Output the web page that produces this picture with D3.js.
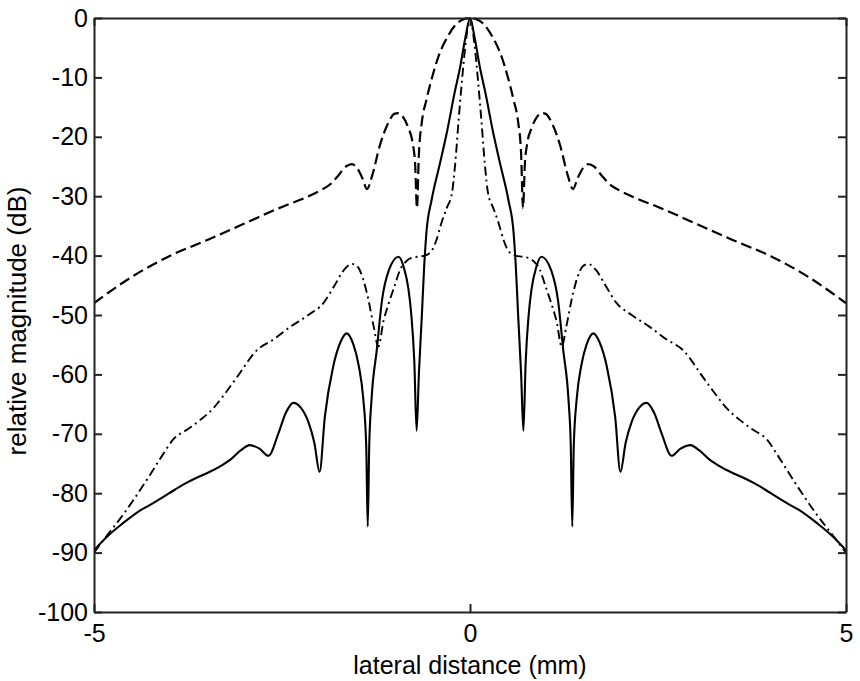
<!DOCTYPE html>
<html>
<head>
<meta charset="utf-8">
<script src="https://cdn.jsdelivr.net/npm/d3@7"></script>
<style>
  html, body { margin: 0; padding: 0; background: #fff; }
  svg { display: block; }
  text { font-family: "Liberation Sans", Arial, sans-serif; fill: #000; }
</style>
</head>
<body>
<svg id="chart" width="860" height="681"></svg>
<script>
// ---- data ----
const xTicks = [-5, 0, 5];
const yTicks = [0, -10, -20, -30, -40, -50, -60, -70, -80, -90, -100];

// dashed curve
const dashedX = [-5,-4.5,-4,-3.5,-3,-2.5,-2.2,-2,-1.85,-1.75,-1.65,-1.57,-1.5,-1.43,-1.37,-1.3,-1.2,-1.1,-1,-0.95,-0.9,-0.82,-0.76,-0.73,-0.705,-0.68,-0.64,-0.58,-0.5,-0.42,-0.3,-0.18,-0.1,0,
  0.1,0.18,0.3,0.42,0.5,0.58,0.64,0.68,0.705,0.73,0.76,0.82,0.9,0.95,1,1.1,1.2,1.3,1.37,1.43,1.5,1.57,1.65,1.75,1.85,2,2.2,2.5,3,3.5,4,4.5,5];
const dashedY = [-48,-43.6,-40.1,-37.4,-34.6,-31.8,-30.3,-29.1,-27.9,-26.5,-25,-24.6,-25.3,-27,-28.8,-26.5,-21.5,-18,-16.1,-16,-16.5,-18.5,-21.2,-24.5,-32,-23,-17.5,-13.8,-9.8,-6.5,-3.2,-1,-0.3,0,
  -0.3,-1,-3.2,-6.5,-9.8,-13.8,-17.5,-23,-32,-24.5,-21.2,-18.5,-16.5,-16,-16.1,-18,-21.5,-26.5,-28.8,-27,-25.3,-24.6,-25,-26.5,-27.9,-29.1,-30.3,-31.8,-34.6,-37.4,-40.1,-43.6,-48];

// dash-dot curve
const dashDotX = [-5,-4.85,-4.6,-4.3,-4.1,-3.95,-3.75,-3.59,-3.4,-3.28,-3.1,-2.84,-2.6,-2.39,-2.15,-1.95,-1.8,-1.68,-1.57,-1.5,-1.42,-1.35,-1.28,-1.22,-1.15,-1.08,-1,-0.93,-0.85,-0.78,-0.7,-0.6,-0.5,-0.45,-0.38,-0.31,-0.24,-0.2,-0.15,-0.11,-0.06,0,
  0.06,0.11,0.15,0.2,0.24,0.31,0.38,0.45,0.5,0.6,0.7,0.78,0.85,0.93,1,1.08,1.15,1.22,1.28,1.35,1.42,1.5,1.57,1.68,1.8,1.95,2.15,2.39,2.6,2.84,3.1,3.28,3.4,3.59,3.75,3.95,4.1,4.3,4.6,4.85,5];
const dashDotY = [-90,-87.5,-83.4,-77.8,-73.8,-71,-69.2,-67.7,-65.5,-63.6,-60.5,-56,-54,-52,-50,-48,-45,-42.5,-41.4,-41.8,-44,-47.5,-52,-55.3,-51,-48,-45,-42.4,-41,-40.4,-40.2,-40,-39,-37.5,-34.5,-32,-29.5,-25,-17,-11,-4.5,0,
  -4.5,-11,-17,-25,-29.5,-32,-34.5,-37.5,-39,-40,-40.2,-40.4,-41,-42.4,-45,-48,-51,-55.3,-52,-47.5,-44,-41.8,-41.4,-42.5,-45,-48,-50,-52,-54,-56,-60.5,-63.6,-65.5,-67.7,-69.2,-71,-73.8,-77.8,-83.4,-87.5,-90];

// solid curve
const solidX = [-5,-4.8,-4.61,-4.4,-4.26,-4,-3.82,-3.6,-3.46,-3.3,-3.19,-3.05,-2.93,-2.8,-2.68,-2.55,-2.45,-2.35,-2.25,-2.15,-2.07,-2,-1.93,-1.82,-1.72,-1.64,-1.55,-1.48,-1.42,-1.38,-1.36,-1.34,-1.31,-1.24,-1.17,-1.08,-0.95,-0.88,-0.82,-0.78,-0.74,-0.71,-0.68,-0.64,-0.61,-0.58,-0.51,-0.4,-0.31,-0.2,-0.13,-0.06,0,
  0.06,0.13,0.2,0.31,0.4,0.51,0.58,0.61,0.64,0.68,0.71,0.74,0.78,0.82,0.88,0.95,1.08,1.17,1.24,1.31,1.34,1.36,1.38,1.42,1.48,1.55,1.64,1.72,1.82,1.93,2,2.07,2.15,2.25,2.35,2.45,2.55,2.68,2.8,2.93,3.05,3.19,3.3,3.46,3.6,3.82,4,4.26,4.4,4.61,4.8,5];
const solidY = [-89.6,-87,-85,-83,-82,-80,-78.6,-77.2,-76.4,-75.3,-74.4,-72.8,-71.9,-72.5,-73.7,-70,-66.5,-64.8,-65.6,-68,-71.5,-76.4,-67.1,-58.7,-54.5,-53.1,-55,-58.5,-64,-72,-85.6,-72,-64.3,-55.9,-47.5,-42.5,-40.2,-42,-45.5,-50,-58,-69.5,-60,-50,-42,-36.2,-30.6,-24.5,-19.4,-12.3,-8.2,-3.2,0,
  -3.2,-8.2,-12.3,-19.4,-24.5,-30.6,-36.2,-42,-50,-60,-69.5,-58,-50,-45.5,-42,-40.2,-42.5,-47.5,-55.9,-64.3,-72,-85.6,-72,-64,-58.5,-55,-53.1,-54.5,-58.7,-67.1,-76.4,-71.5,-68,-65.6,-64.8,-66.5,-70,-73.7,-72.5,-71.9,-72.8,-74.4,-75.3,-76.4,-77.2,-78.6,-80,-82,-83,-85,-87,-89.6];

const xLabel = "lateral distance (mm)";
const yLabel = "relative magnitude (dB)";

// ---- layout ----
const W = 860, H = 681;
const m = { left: 94, top: 18, right: 860 - 846, bottom: 681 - 612 };
const iw = W - m.left - m.right, ih = H - m.top - m.bottom;

const svg = d3.select("#chart");
const g = svg.append("g").attr("transform", `translate(${m.left},${m.top})`);

const x = d3.scaleLinear().domain([-5, 5]).range([0, iw]);
const y = d3.scaleLinear().domain([-100, 0]).range([ih, 0]);

const zip = (xs, ys) => xs.map((v, i) => [v, ys[i]]);
const line = d3.line().x(d => x(d[0])).y(d => y(d[1])).curve(d3.curveMonotoneX);

svg.append("defs").append("clipPath").attr("id", "clip")
  .append("rect").attr("x", 0).attr("y", -2).attr("width", iw).attr("height", ih + 2);

const curves = g.append("g").attr("clip-path", "url(#clip)");
curves.append("path").datum(zip(dashedX, dashedY))
  .attr("d", line).attr("fill", "none").attr("stroke", "#000")
  .attr("stroke-width", 2.2).attr("stroke-dasharray", "11,5");
curves.append("path").datum(zip(dashDotX, dashDotY))
  .attr("d", line).attr("fill", "none").attr("stroke", "#000")
  .attr("stroke-width", 1.9).attr("stroke-dasharray", "9,4,2,4");
curves.append("path").datum(zip(solidX, solidY))
  .attr("d", line).attr("fill", "none").attr("stroke", "#000")
  .attr("stroke-width", 2.1);

// ---- axes (box with inward ticks) ----
const fs = 25;
const tickLen = 8;
const fmt = d => String(d);

const axB = g.append("g").attr("transform", `translate(0,${ih})`)
  .call(d3.axisBottom(x).tickValues(xTicks).tickFormat(fmt).tickSizeInner(-tickLen).tickSizeOuter(0).tickPadding(12));
const axL = g.append("g")
  .call(d3.axisLeft(y).tickValues(yTicks).tickFormat(fmt).tickSizeInner(-tickLen).tickSizeOuter(0).tickPadding(6));
const axT = g.append("g")
  .call(d3.axisTop(x).tickValues(xTicks).tickFormat("").tickSizeInner(-tickLen).tickSizeOuter(0));
const axR = g.append("g").attr("transform", `translate(${iw},0)`)
  .call(d3.axisRight(y).tickValues(yTicks).tickFormat("").tickSizeInner(-tickLen).tickSizeOuter(0));

[axB, axL, axT, axR].forEach(a => {
  a.select(".domain").attr("stroke", "#222").attr("stroke-width", 2);
  a.selectAll(".tick line").attr("stroke", "#222").attr("stroke-width", 2);
  a.selectAll(".tick text").attr("font-size", fs).attr("font-family", '"Liberation Sans", Arial, sans-serif').attr("fill", "#000");
});

// axis labels
svg.append("text")
  .attr("x", m.left + iw / 2).attr("y", 674)
  .attr("text-anchor", "middle").attr("font-size", fs)
  .text(xLabel);
svg.append("text")
  .attr("transform", `translate(26,${m.top + ih / 2 + 6}) rotate(-90)`)
  .attr("text-anchor", "middle").attr("font-size", fs + 1)
  .text(yLabel);
</script>
</body>
</html>
